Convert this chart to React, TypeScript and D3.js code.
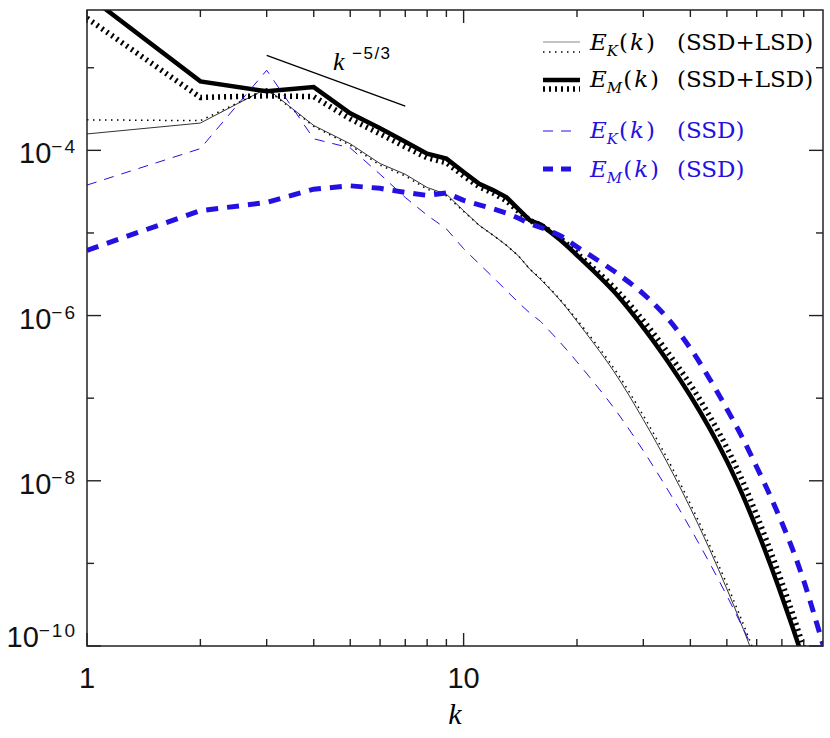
import React from "react";
import * as d3 from "d3";

// ---- data ----
const waveNumbers = [1, 2, 3, 4, 5, 6, 7, 8, 9, 10, 11, 12, 13, 14, 15, 16, 18, 20, 25, 30, 35, 40, 45, 50, 55, 60, 65, 70, 75, 80, 85, 90];

// E_M(k) (SSD+LSD), solid
const emBothSolid = [7.59e-3, 6.84e-4, 5.18e-4, 5.83e-4, 2.81e-4, 1.85e-4, 1.27e-4, 9.12e-5, 7.94e-5, 5.46e-5, 3.94e-5, 3.28e-5, 2.70e-5, 1.93e-5, 1.42e-5, 1.27e-5, 8.32e-6, 5.37e-6, 1.98e-6, 7.16e-7, 2.71e-7, 1.07e-7, 4.30e-8, 1.73e-8, 6.79e-9, 2.61e-9, 1.01e-9, 3.98e-10, 1.61e-10, 6.64e-11, 2.82e-11];
// E_M(k) (SSD+LSD), dotted
const emBothDotted = [3.98e-3, 4.37e-4, 4.57e-4, 4.47e-4, 2.40e-4, 1.58e-4, 1.10e-4, 8.13e-5, 7.08e-5, 4.90e-5, 3.63e-5, 3.02e-5, 2.45e-5, 1.82e-5, 1.41e-5, 1.26e-5, 8.71e-6, 5.66e-6, 2.21e-6, 8.69e-7, 3.48e-7, 1.46e-7, 6.08e-8, 2.52e-8, 1.00e-8, 3.85e-9, 1.49e-9, 5.89e-10, 2.34e-10, 9.53e-11, 4.07e-11];
// E_K(k) (SSD+LSD), thin solid
const ekBothSolid = [1.58e-4, 2.14e-4, 5.62e-4, 2.00e-4, 1.20e-4, 6.92e-5, 5.13e-5, 3.55e-5, 2.95e-5, 1.86e-5, 1.24e-5, 9.33e-6, 7.08e-6, 5.25e-6, 3.63e-6, 2.75e-6, 1.55e-6, 8.51e-7, 2.14e-7, 5.50e-8, 1.55e-8, 4.68e-9, 1.48e-9, 4.90e-10, 1.70e-10, 6.03e-11];
// E_K(k) (SSD+LSD), thin dotted
const ekBothDotted = [2.34e-4, 2.29e-4, 5.50e-4, 1.95e-4, 1.15e-4, 6.61e-5, 4.90e-5, 3.39e-5, 2.82e-5, 1.82e-5, 1.23e-5, 9.33e-6, 7.08e-6, 5.25e-6, 3.63e-6, 2.82e-6, 1.58e-6, 8.91e-7, 2.34e-7, 6.17e-8, 1.74e-8, 5.25e-9, 1.66e-9, 5.62e-10, 1.95e-10, 7.08e-11];
// E_K(k) (SSD), thin dashed blue
const ekSSD = [3.80e-5, 1.05e-4, 9.33e-4, 1.38e-4, 1.07e-4, 5.13e-5, 2.69e-5, 1.64e-5, 1.12e-5, 6.46e-6, 4.22e-6, 2.88e-6, 2.00e-6, 1.43e-6, 1.07e-6, 8.51e-7, 4.79e-7, 2.75e-7, 7.74e-8, 2.31e-8, 7.50e-9, 2.65e-9, 1.01e-9, 4.06e-10, 1.70e-10, 7.36e-11];
// E_M(k) (SSD), thick dashed blue
const emSSD = [6.17e-6, 1.86e-5, 2.34e-5, 3.39e-5, 3.72e-5, 3.47e-5, 3.09e-5, 2.85e-5, 3.05e-5, 2.48e-5, 2.19e-5, 1.95e-5, 1.74e-5, 1.51e-5, 1.29e-5, 1.17e-5, 9.33e-6, 6.78e-6, 3.48e-6, 1.83e-6, 8.99e-7, 4.01e-7, 1.71e-7, 7.41e-8, 3.31e-8, 1.47e-8, 6.76e-9, 3.10e-9, 1.42e-9, 6.15e-10, 2.52e-10, 1.04e-10];

// k^-5/3 reference segment
const slopeK = [3, 7];
const slopeE = [1.41e-3, 3.43e-4];

// ticks
const xMajorTicks = [1, 10];
const xMinorTicks = [2, 3, 4, 5, 6, 7, 8, 9, 20, 30, 40, 50, 60, 70, 80];
const xTickLabels = ["1", "10"];
const yMajorTicks = [1e-10, 1e-8, 1e-6, 1e-4];
const yMinorTicks = [1e-9, 1e-7, 1e-5, 1e-3];
const yTickExponents = ["\u221210", "\u22128", "\u22126", "\u22124"];

const W = 830, H = 738;
const L = 87, R = 823, T = 10, B = 646;
const BLUE = "#2410e0";
const SMOOTH_FROM_K = 16;

export default function App() {
  const x = d3.scaleLog().domain([1, 90]).range([L, R]);
  const y = d3.scaleLog().domain([1e-10, 5e-3]).range([B, T]);
  const linLine = d3.line<[number, number]>().x((d) => x(d[0])).y((d) => y(d[1]));
  const smoothLine = d3
    .line<[number, number]>()
    .curve(d3.curveCatmullRom.alpha(0.5))
    .x((d) => x(d[0]))
    .y((d) => y(d[1]));

  const path = (vals: number[]) => {
    const pts = vals.map((v, i) => [waveNumbers[i], v] as [number, number]);
    const split = waveNumbers.indexOf(SMOOTH_FROM_K);
    const head = linLine(pts.slice(0, split + 1)) || "";
    const tail = smoothLine(pts.slice(split)) || "";
    return head + tail.replace(/^M[\d.,\-\s]*/, "");
  };
  const slopePath = linLine(slopeK.map((k, i) => [k, slopeE[i]] as [number, number])) || "";

  const sans = "Liberation Sans, Arial, sans-serif";
  const serif = "DejaVu Serif, serif";

  const legendRow = (yBase: number, sub: string, tail: string, color: string) => (
    <text x={590} y={yBase} fontFamily={serif} fontSize={23} fill={color}>
      <tspan fontStyle="italic">E</tspan>
      <tspan fontStyle="italic" fontSize={15} dy={6}>{sub}</tspan>
      <tspan dy={-6} dx={1}>(</tspan>
      <tspan fontStyle="italic" dx={2}>k</tspan>
      <tspan dx={2}>)</tspan>
      <tspan x={677}>{tail}</tspan>
    </text>
  );

  return (
    <svg width={W} height={H} style={{ position: "absolute", left: 0, top: 0, background: "#fff" }}>
      <defs>
        <clipPath id="plotClip">
          <rect x={L} y={T} width={R - L} height={B - T} />
        </clipPath>
      </defs>
      <rect x={0} y={0} width={W} height={H} fill="#fff" />

      <g clipPath="url(#plotClip)" fill="none">
        <path d={path(ekBothSolid)} stroke="#333" strokeWidth={1} />
        <path d={path(ekBothDotted)} stroke="#000" strokeWidth={1.5} strokeDasharray="1.5 4.5" />
        <path d={path(emBothSolid)} stroke="#000" strokeWidth={4.5} />
        <path d={path(emBothDotted)} stroke="#000" strokeWidth={5.5} strokeDasharray="2 4" />
        <path d={path(ekSSD)} stroke={BLUE} strokeWidth={1} strokeDasharray="10 8" />
        <path d={path(emSSD)} stroke={BLUE} strokeWidth={5} strokeDasharray="12 9" />
        <path d={slopePath} stroke="#000" strokeWidth={1.3} />
      </g>

      {/* k^-5/3 label */}
      <text x={333} y={70} fontFamily="Liberation Serif, serif" fontStyle="italic" fontSize={26}>k</text>
      <text x={352} y={59} fontFamily={sans} fontSize={17} letterSpacing={1.5}>{"\u22125/3"}</text>

      {/* frame */}
      <rect x={L} y={T} width={R - L} height={B - T} fill="none" stroke="#222" strokeWidth={1.5} />

      {/* x ticks */}
      {xMajorTicks.map((t) => (
        <g key={"xM" + t} stroke="#222" strokeWidth={1.4}>
          <line x1={x(t)} x2={x(t)} y1={B} y2={B - 13} />
          <line x1={x(t)} x2={x(t)} y1={T} y2={T + 13} />
        </g>
      ))}
      {xMinorTicks.map((t) => (
        <g key={"xm" + t} stroke="#222" strokeWidth={1.4}>
          <line x1={x(t)} x2={x(t)} y1={B} y2={B - 7} />
          <line x1={x(t)} x2={x(t)} y1={T} y2={T + 7} />
        </g>
      ))}
      {/* y ticks */}
      {yMajorTicks.map((t) => (
        <g key={"yM" + t} stroke="#222" strokeWidth={1.4}>
          <line x1={L} x2={L + 14} y1={y(t)} y2={y(t)} />
          <line x1={R} x2={R - 14} y1={y(t)} y2={y(t)} />
        </g>
      ))}
      {yMinorTicks.map((t) => (
        <g key={"ym" + t} stroke="#222" strokeWidth={1.4}>
          <line x1={L} x2={L + 7} y1={y(t)} y2={y(t)} />
          <line x1={R} x2={R - 7} y1={y(t)} y2={y(t)} />
        </g>
      ))}

      {/* x tick labels */}
      {xMajorTicks.map((t, i) => (
        <text key={"xl" + t} x={x(t)} y={688} textAnchor="middle" fontFamily={sans} fontSize={29} fill="#111">
          {xTickLabels[i]}
        </text>
      ))}
      {/* y tick labels */}
      {yMajorTicks.map((t, i) => (
        <text key={"yl" + t} x={77} y={Math.min(y(t) + 13, B + 1)} textAnchor="end" fontFamily={sans} fontSize={29} fill="#111">
          10
          <tspan fontSize={19} dy={-10} letterSpacing={2}>{yTickExponents[i]}</tspan>
        </text>
      ))}

      {/* axis title */}
      <text x={(L + R) / 2} y={724} textAnchor="middle" fontFamily="Liberation Serif, serif" fontStyle="italic" fontSize={30}>k</text>

      {/* legend */}
      <g fill="none">
        <line x1={543} x2={580} y1={42} y2={42} stroke="#888" strokeWidth={1} />
        <line x1={543} x2={580} y1={52} y2={52} stroke="#000" strokeWidth={1.5} strokeDasharray="1.5 4.5" />
        <line x1={543} x2={580} y1={80} y2={80} stroke="#000" strokeWidth={4.5} />
        <line x1={543} x2={580} y1={89} y2={89} stroke="#000" strokeWidth={5.5} strokeDasharray="2 4" />
        <line x1={543} x2={571} y1={131} y2={131} stroke={BLUE} strokeWidth={1} strokeDasharray="10 8" />
        <line x1={543} x2={571} y1={169} y2={169} stroke={BLUE} strokeWidth={5} strokeDasharray="10 8" />
      </g>
      {legendRow(50, "K", "(SSD+LSD)", "#000")}
      {legendRow(87, "M", "(SSD+LSD)", "#000")}
      {legendRow(138, "K", "(SSD)", BLUE)}
      {legendRow(177, "M", "(SSD)", BLUE)}
    </svg>
  );
}
